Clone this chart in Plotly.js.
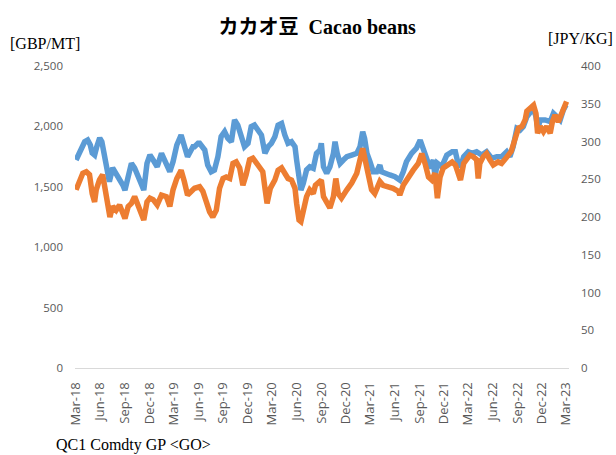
<!DOCTYPE html>
<html><head><meta charset="utf-8">
<script src="https://cdn.plot.ly/plotly-3.0.1.min.js"></script>
<style>html,body{margin:0;padding:0;background:#fff}#chart{width:616px;height:455px}</style>
</head><body><div id="chart"></div>
<script>
// Cacao beans, GBP/MT (left axis)
const gbpDates = ["2018-03-03","2018-03-08","2018-03-22","2018-04-04","2018-04-15","2018-04-25","2018-05-02","2018-05-11","2018-05-19","2018-05-30","2018-06-07","2018-06-14","2018-06-23","2018-06-29","2018-07-05","2018-07-17","2018-07-30","2018-08-12","2018-08-24","2018-09-01","2018-09-09","2018-09-25","2018-10-07","2018-10-19","2018-11-02","2018-11-10","2018-11-22","2018-12-03","2018-12-15","2018-12-30","2019-01-15","2019-01-27","2019-02-15","2019-02-27","2019-03-13","2019-03-29","2019-04-10","2019-04-22","2019-05-12","2019-05-18","2019-05-31","2019-06-06","2019-06-25","2019-07-06","2019-07-19","2019-07-31","2019-08-13","2019-08-25","2019-09-07","2019-09-19","2019-10-02","2019-10-14","2019-10-26","2019-11-08","2019-11-20","2019-12-03","2019-12-15","2019-12-27","2020-01-10","2020-01-22","2020-02-04","2020-02-16","2020-02-28","2020-03-12","2020-03-24","2020-04-06","2020-04-18","2020-04-30","2020-05-13","2020-05-26","2020-06-01","2020-06-10","2020-06-17","2020-06-26","2020-07-08","2020-07-20","2020-08-02","2020-08-14","2020-08-27","2020-09-01","2020-09-09","2020-09-21","2020-10-03","2020-10-16","2020-10-22","2020-10-30","2020-11-10","2020-11-22","2020-12-05","2020-12-23","2021-01-11","2021-01-23","2021-02-02","2021-02-09","2021-02-18","2021-03-01","2021-03-13","2021-03-26","2021-04-07","2021-04-13","2021-04-26","2021-05-14","2021-06-02","2021-06-20","2021-07-03","2021-07-15","2021-08-03","2021-08-21","2021-09-04","2021-09-16","2021-09-28","2021-10-11","2021-10-23","2021-10-29","2021-11-07","2021-11-23","2021-12-12","2022-01-01","2022-01-13","2022-01-23","2022-02-01","2022-02-13","2022-03-02","2022-03-15","2022-04-02","2022-04-21","2022-05-09","2022-05-28","2022-06-16","2022-07-04","2022-07-23","2022-08-04","2022-08-16","2022-08-30","2022-09-11","2022-09-23","2022-10-06","2022-10-18","2022-10-31","2022-11-09","2022-11-16","2022-11-25","2022-12-13","2023-01-01","2023-01-13","2023-01-26","2023-02-07","2023-02-19","2023-03-01"];
const gbpValues = [1722,1747,1832,1873,1887,1846,1780,1763,1832,1904,1873,1780,1680,1598,1542,1656,1614,1556,1515,1473,1542,1694,1656,1584,1501,1473,1694,1763,1722,1666,1777,1722,1625,1708,1846,1929,1832,1749,1832,1832,1860,1860,1805,1680,1625,1639,1749,1915,1956,1901,1873,2053,2011,1915,1832,1860,1998,2011,1970,1929,1777,1832,1860,1915,2011,2025,1929,1860,1873,1832,1722,1584,1473,1529,1639,1666,1653,1777,1805,1860,1666,1611,1666,1777,1873,1777,1694,1722,1749,1763,1777,1832,1956,1901,1777,1708,1625,1625,1680,1625,1611,1598,1584,1556,1625,1708,1777,1819,1887,1805,1722,1653,1722,1584,1694,1666,1763,1790,1790,1694,1666,1749,1790,1777,1790,1763,1790,1736,1749,1749,1790,1749,1832,1984,1970,1998,2080,2122,2150,2080,1984,2053,2053,2039,2108,2080,2053,2136,2177];

// Cacao beans, JPY/KG (right axis)
const jpyDates = ["2018-03-03","2018-03-15","2018-03-28","2018-04-10","2018-04-22","2018-05-02","2018-05-11","2018-05-17","2018-05-29","2018-06-10","2018-06-20","2018-06-29","2018-07-07","2018-07-17","2018-07-30","2018-08-12","2018-08-24","2018-09-01","2018-09-13","2018-09-25","2018-10-07","2018-10-19","2018-11-02","2018-11-10","2018-11-22","2018-12-03","2018-12-15","2018-12-30","2019-01-15","2019-02-02","2019-02-15","2019-02-27","2019-03-13","2019-03-29","2019-04-10","2019-04-22","2019-05-12","2019-05-18","2019-06-06","2019-06-18","2019-07-01","2019-07-13","2019-07-25","2019-08-07","2019-08-19","2019-09-01","2019-09-13","2019-09-26","2019-10-08","2019-10-20","2019-11-02","2019-11-14","2019-11-26","2019-12-09","2019-12-21","2020-01-03","2020-01-15","2020-01-27","2020-02-05","2020-02-12","2020-02-24","2020-03-12","2020-03-24","2020-04-06","2020-04-18","2020-04-30","2020-05-13","2020-05-26","2020-06-01","2020-06-10","2020-06-17","2020-06-26","2020-07-08","2020-07-20","2020-08-02","2020-08-10","2020-08-22","2020-09-01","2020-09-09","2020-09-21","2020-10-03","2020-10-16","2020-10-25","2020-11-03","2020-11-15","2020-12-05","2020-12-23","2021-01-11","2021-01-23","2021-02-02","2021-02-11","2021-02-24","2021-03-07","2021-03-19","2021-04-07","2021-04-19","2021-05-08","2021-05-26","2021-06-15","2021-06-20","2021-07-03","2021-07-21","2021-08-09","2021-08-28","2021-09-10","2021-09-22","2021-10-05","2021-10-17","2021-10-29","2021-11-07","2021-11-17","2021-11-29","2021-12-18","2022-01-01","2022-01-13","2022-01-23","2022-02-01","2022-02-13","2022-02-25","2022-03-08","2022-03-20","2022-04-02","2022-04-08","2022-04-14","2022-04-27","2022-05-09","2022-05-21","2022-06-03","2022-06-21","2022-07-04","2022-07-16","2022-07-28","2022-08-09","2022-08-22","2022-09-05","2022-09-18","2022-09-30","2022-10-06","2022-10-18","2022-10-31","2022-11-09","2022-11-15","2022-11-25","2022-12-07","2022-12-19","2023-01-01","2023-01-09","2023-01-19","2023-01-31","2023-02-10","2023-02-25","2023-03-03"];
const jpyValues = [236,247,258,260,256,231,220,236,249,256,238,216,200,214,209,216,205,198,214,218,227,214,200,196,220,225,223,216,229,227,214,236,251,262,247,229,236,238,240,234,220,207,200,209,238,251,253,251,271,273,265,242,256,276,278,271,267,260,236,218,238,249,262,265,258,251,249,238,218,196,194,209,227,236,231,242,247,249,227,218,212,227,251,231,225,236,245,258,276,291,276,258,236,231,247,242,240,238,234,229,242,253,262,271,284,271,253,249,258,225,253,265,271,273,269,258,249,271,276,282,280,276,251,271,280,284,276,269,273,271,276,282,287,302,318,320,329,340,344,348,337,311,320,313,320,311,326,335,326,335,346,353];

const xTickStart = "2018-03-01";
const titleText = "カカオ豆&nbsp;&nbsp;Cacao beans";
const leftUnit = "[GBP/MT]";
const rightUnit = "[JPY/KG]";
const sourceText = "QC1 Comdty GP &lt;GO&gt;";

const serif = "Liberation Serif, Noto Sans CJK JP, serif";
const yTickFont = {family: "Open Sans, Noto Sans, sans-serif", size: 11.5, color: "#595959"};
const xTickFont = {family: "Open Sans, Noto Sans, sans-serif", size: 13, color: "#595959"};

const traces = [
  {x: gbpDates, y: gbpValues, type: "scatter", mode: "lines", name: "GBP/MT",
   line: {color: "#5B9BD5", width: 5.5}, yaxis: "y"},
  {x: jpyDates, y: jpyValues, type: "scatter", mode: "lines", name: "JPY/KG",
   line: {color: "#ED7D31", width: 5.5}, yaxis: "y2"}
];

const layout = {
  width: 616, height: 455,
  margin: {l: 75, r: 47, t: 66, b: 87},
  paper_bgcolor: "#fff", plot_bgcolor: "#fff",
  showlegend: false,
  title: {text: titleText, font: {family: serif, size: 20, color: "#000", weight: "bold"},
          x: 0.515, xanchor: "center", y: 0.94, yanchor: "middle"},
  xaxis: {type: "date", range: ["2018-02-27", "2023-03-12"],
          tick0: xTickStart, dtick: "M3", tickformat: "%b-%y", tickangle: -90,
          showgrid: false, zeroline: false, showline: true, linecolor: "#d9d9d9", linewidth: 1,
          ticks: "", tickfont: xTickFont, ticklabelstandoff: 8},
  yaxis: {range: [0, 2500], tick0: 0, dtick: 500, tickformat: ",d",
          showgrid: false, zeroline: false, showline: false, ticks: "",
          tickfont: yTickFont, ticklabelstandoff: 11},
  yaxis2: {range: [0, 400], tick0: 0, dtick: 50, overlaying: "y", side: "right",
           showgrid: false, zeroline: false, showline: false, ticks: "",
           tickfont: yTickFont, ticklabelstandoff: 11},
  annotations: [
    {text: leftUnit, xref: "paper", yref: "paper", x: -0.135, y: 1.075, xanchor: "left", yanchor: "middle",
     showarrow: false, font: {family: serif, size: 16, color: "#000"}},
    {text: rightUnit, xref: "paper", yref: "paper", x: 1.093, y: 1.09, xanchor: "right", yanchor: "middle",
     showarrow: false, font: {family: serif, size: 16, color: "#000"}},
    {text: sourceText, xref: "paper", yref: "paper", x: -0.042, y: -0.255, xanchor: "left", yanchor: "middle",
     showarrow: false, font: {family: serif, size: 16, color: "#000"}}
  ]
};

Plotly.newPlot("chart", traces, layout, {displayModeBar: false, staticPlot: true});
</script>
</body></html>
